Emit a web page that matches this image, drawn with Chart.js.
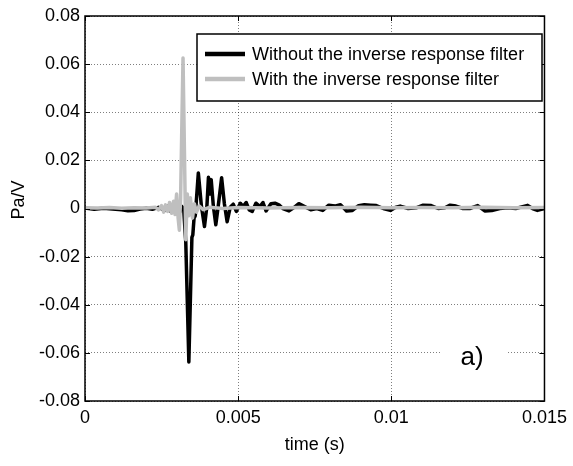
<!DOCTYPE html>
<html>
<head>
<meta charset="utf-8">
<script src="https://cdn.jsdelivr.net/npm/chart.js@4.4.0/dist/chart.umd.min.js"></script>
<style>
  html, body { margin: 0; padding: 0; background: #fff; }
  canvas { display: block; }
</style>
</head>
<body>
<canvas id="chart" width="573" height="466"></canvas>
<script>
// Series: without the inverse response filter (black)
const timeWithout = [
  0, 0.0003, 0.0006, 0.0009, 0.0012, 0.0014, 0.0016, 0.0018, 0.002, 0.0022,
  0.0024, 0.0026, 0.0027, 0.0028, 0.0029, 0.003, 0.00305, 0.0031, 0.00315, 0.00322,
  0.00329, 0.00339, 0.00349, 0.00352, 0.00356, 0.0036, 0.0037, 0.0038, 0.0039, 0.00398,
  0.00403, 0.00408, 0.00412, 0.00419, 0.00427, 0.00435, 0.00446, 0.00455, 0.00464, 0.00474,
  0.00484, 0.00494, 0.00507, 0.00516, 0.00526, 0.00536, 0.00546, 0.00558, 0.00571, 0.00581,
  0.00591, 0.00607, 0.0062, 0.00633, 0.00646, 0.00666, 0.00682, 0.00698, 0.00714, 0.00737,
  0.00757, 0.00776, 0.00796, 0.00815, 0.00834, 0.00854, 0.00873, 0.00893, 0.00912, 0.00932,
  0.00951, 0.00974, 0.00997, 0.01013, 0.01029, 0.01055, 0.01081, 0.01104, 0.0113, 0.01153,
  0.01175, 0.01192, 0.01211, 0.01234, 0.01256, 0.01282, 0.01305, 0.01328, 0.01354, 0.0138,
  0.01406, 0.01445, 0.01461, 0.01477, 0.015
];
const valuesWithout = [
  0.0002, -0.0003, 0.0001, -0.0002, -0.0005, -0.0009, -0.0008, -0.0002, 0.0001, -0.0003,
  0.0005, -0.0008, 0.001, -0.0012, 0.0015, -0.001, 0.002, -0.0015, 0.001, 0,
  -0.014, -0.0638, -0.012, -0.011, -0.004, -0.003, 0.0148, 0.001, -0.0075, 0.001,
  0.013, 0.006, 0.012, 0.001, -0.0068, 0.001, 0.0128, 0.002, -0.0055, 0.0005,
  0.0018, -0.0012, 0.0022, 0.0008, 0.0025, -0.0006, -0.0012, 0.0022, 0.0008, 0.0025,
  -0.001, 0.002, 0.0022, 0.0015, 0, -0.001, 0.0004, 0.002, 0.001, -0.0005,
  0, -0.0008, 0.0014, 0.001, 0.0016, -0.001, -0.0008, 0.0012, 0.0016, 0.0014,
  0.0012, 0, -0.0008, 0.0004, 0.001, 0, 0.0003, 0.0014, 0.0012, 0,
  0.0003, 0.0014, 0.001, 0, 0, 0.0012, -0.001, -0.0008, 0, 0.0003,
  0, 0.0013, 0, -0.0008, 0
];

// Series: with the inverse response filter (grey)
const timeWith = [
  0, 0.0004, 0.0008, 0.0012, 0.0016, 0.002, 0.0023, 0.0024, 0.0025, 0.00257,
  0.00263, 0.0027, 0.00276, 0.00283, 0.00289, 0.00294, 0.00299, 0.00304, 0.00308, 0.00312,
  0.0032, 0.00329, 0.00334, 0.00339, 0.00344, 0.00351, 0.00357, 0.00364, 0.00373, 0.00386,
  0.00406, 0.0045, 0.005, 0.006, 0.007, 0.008, 0.009, 0.01, 0.011, 0.012,
  0.013, 0.014, 0.015
];
const valuesWith = [
  0.0003, 0.0002, 0.0004, 0.0001, 0.0003, 0.0002, 0.0005, -0.0006, 0.0012, -0.0015,
  0.0015, -0.0012, 0.0025, -0.002, 0.003, -0.0025, 0.006, -0.004, -0.009, 0.004,
  0.0625, -0.013, 0.006, -0.003, 0.0045, -0.004, 0.002, -0.0015, 0.001, -0.0005,
  0.0005, 0, 0.0004, 0.0002, 0.0004, 0.0003, 0.0005, 0.0003, 0.0004, 0.0003,
  0.0005, 0.0003, 0.0004
];

const seriesLabels = ['Without the inverse response filter', 'With the inverse response filter'];
const xTickValues = [0, 0.005, 0.01, 0.015];
const xTickLabels = ['0', '0.005', '0.01', '0.015'];
const yTickValues = [-0.08, -0.06, -0.04, -0.02, 0, 0.02, 0.04, 0.06, 0.08];
const yTickLabels = ['-0.08', '-0.06', '-0.04', '-0.02', '0', '0.02', '0.04', '0.06', '0.08'];
const xTitle = 'time (s)';
const yTitle = 'Pa/V';
const panelLabel = 'a)';

const FONT = '"Liberation Sans", Arial, sans-serif';
const BLACK = '#000000';
const GREY = '#bfbfbf';

const toPoints = (xs, ys) => xs.map((x, i) => ({ x: x, y: ys[i] }));

// Box, inward ticks, legend, titles (MATLAB look)
const matlabFrame = {
  id: 'matlabFrame',
  afterDatasetsDraw(chart) {
    const { ctx, chartArea: a, scales } = chart;
    ctx.save();

    // inward tick marks
    ctx.strokeStyle = '#000';
    ctx.lineWidth = 1;
    ctx.beginPath();
    xTickValues.forEach(v => {
      const px = Math.round(scales.x.getPixelForValue(v)) + 0.5;
      ctx.moveTo(px, a.bottom); ctx.lineTo(px, a.bottom - 5);
      ctx.moveTo(px, a.top); ctx.lineTo(px, a.top + 5);
    });
    yTickValues.forEach(v => {
      const py = Math.round(scales.y.getPixelForValue(v)) + 0.5;
      ctx.moveTo(a.left, py); ctx.lineTo(a.left + 5, py);
      ctx.moveTo(a.right, py); ctx.lineTo(a.right - 5, py);
    });
    ctx.stroke();

    // axes box
    ctx.lineWidth = 1.5;
    ctx.strokeRect(a.left, a.top, a.right - a.left, a.bottom - a.top);

    // legend
    const lx = 197, ly = 34, lw = 345, lh = 67;
    ctx.fillStyle = '#fff';
    ctx.fillRect(lx, ly, lw, lh);
    ctx.lineWidth = 1.5;
    ctx.strokeStyle = '#000';
    ctx.strokeRect(lx, ly, lw, lh);
    const rows = [54, 79];
    chart.data.datasets.forEach((ds, i) => {
      ctx.strokeStyle = ds.borderColor;
      ctx.lineWidth = 4.5;
      ctx.beginPath();
      ctx.moveTo(205, rows[i]); ctx.lineTo(245, rows[i]);
      ctx.stroke();
      ctx.fillStyle = '#000';
      ctx.font = '18px ' + FONT;
      ctx.textAlign = 'left';
      ctx.textBaseline = 'middle';
      ctx.fillText(ds.label, 252, rows[i] + 1);
    });

    // panel label
    ctx.fillStyle = '#fff';
    ctx.fillRect(440, 338, 66, 38);
    ctx.fillStyle = '#000';
    ctx.font = '26px ' + FONT;
    ctx.textAlign = 'center';
    ctx.textBaseline = 'middle';
    ctx.fillText(panelLabel, 472, 358);
    ctx.restore();
  },
  afterDraw(chart) {
    const { ctx, chartArea: a } = chart;
    ctx.save();
    ctx.fillStyle = '#000';
    ctx.font = '18px ' + FONT;
    ctx.textAlign = 'center';
    ctx.textBaseline = 'middle';
    ctx.fillText(xTitle, (a.left + a.right) / 2, 445);
    ctx.translate(19, 200);
    ctx.rotate(-Math.PI / 2);
    ctx.fillText(yTitle, 0, 0);
    ctx.restore();
  }
};

const ctx = document.getElementById('chart').getContext('2d');
new Chart(ctx, {
  type: 'line',
  data: {
    datasets: [
      {
        label: seriesLabels[0],
        data: toPoints(timeWithout, valuesWithout),
        borderColor: BLACK,
        borderWidth: 3.5,
        pointRadius: 0,
        tension: 0,
        borderJoinStyle: 'round',
        order: 2
      },
      {
        label: seriesLabels[1],
        data: toPoints(timeWith, valuesWith),
        borderColor: GREY,
        borderWidth: 3.5,
        pointRadius: 0,
        tension: 0,
        borderJoinStyle: 'round',
        order: 1
      }
    ]
  },
  options: {
    responsive: false,
    devicePixelRatio: 1,
    animation: false,
    layout: { padding: { top: 16, right: 26, left: 0, bottom: 0 } },
    plugins: {
      legend: { display: false },
      tooltip: { enabled: false }
    },
    scales: {
      x: {
        type: 'linear',
        min: 0,
        max: 0.015,
        afterFit: (scale) => { scale.height = 65; },
        afterBuildTicks: (scale) => { scale.ticks = xTickValues.map(v => ({ value: v })); },
        ticks: {
          color: '#000',
          padding: 6,
          maxRotation: 0,
          font: { family: FONT, size: 18 },
          callback: (v, i) => xTickLabels[i]
        },
        grid: { color: 'rgba(0,0,0,0.5)', lineWidth: 1, drawTicks: false },
        border: { display: false, dash: [1, 2] }
      },
      y: {
        min: -0.08,
        max: 0.08,
        afterFit: (scale) => { scale.width = 85; },
        afterBuildTicks: (scale) => { scale.ticks = yTickValues.map(v => ({ value: v })); },
        ticks: {
          color: '#000',
          padding: 5,
          font: { family: FONT, size: 18 },
          callback: (v, i) => yTickLabels[i]
        },
        grid: { color: 'rgba(0,0,0,0.5)', lineWidth: 1, drawTicks: false },
        border: { display: false, dash: [1, 2] }
      }
    }
  },
  plugins: [matlabFrame]
});
</script>
</body>
</html>
